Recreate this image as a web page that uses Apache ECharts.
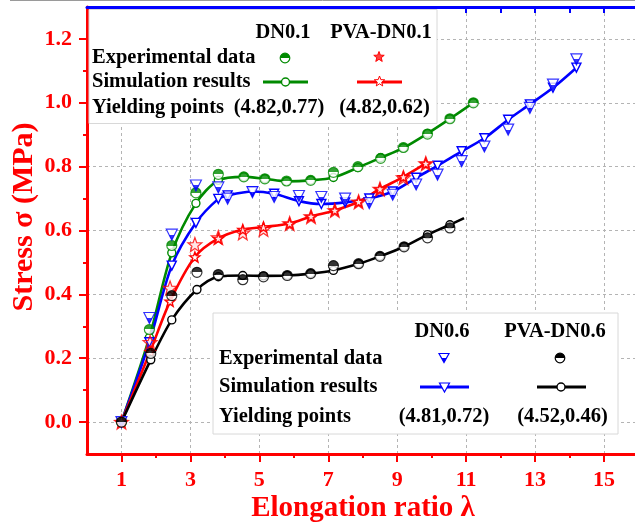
<!DOCTYPE html>
<html><head><meta charset="utf-8">
<script src="https://cdn.jsdelivr.net/npm/echarts@6/dist/echarts.min.js"></script>
<style>html,body{margin:0;padding:0;background:#fff}#c{width:635px;height:524px}</style>
</head><body><div id="c"></div>
<script>
// ---- tick labels ----
const xTickLabels = [1, 3, 5, 7, 9, 11, 13, 15];
const xMinorTicks = [2, 4, 6, 8, 10, 12, 14];
const topTicks = [1, 2, 3, 4, 5, 6, 7, 8, 9, 10, 11, 12, 13, 14, 15];
const yTickLabels = [0, 0.2, 0.4, 0.6, 0.8, 1.0, 1.2];
const yMinorTicks = [0.1, 0.3, 0.5, 0.7, 0.9, 1.1];

// ---- DN0.1 (green) ----
const dn01X   = [1, 1.81, 2.46, 3.16, 3.81, 4.55, 5.16, 5.79, 6.49, 7.15, 7.86, 8.52, 9.18, 9.88, 10.53, 11.21];
const dn01Exp = [0, 0.29, 0.553, 0.718, 0.776, 0.768, 0.762, 0.755, 0.757, 0.782, 0.800, 0.826, 0.860, 0.902, 0.950, 1.000];
const dn01Sim = [0, 0.265, 0.53, 0.685, 0.757, 0.768, 0.762, 0.754, 0.757, 0.766, 0.797, 0.828, 0.859, 0.904, 0.950, 1.000];

// ---- DN0.6 (blue) ----
const dn06X   = [1, 1.81, 2.46, 3.16, 3.81, 4.08, 4.8, 5.43, 6.15, 6.8, 7.49, 8.19, 8.87, 9.55, 10.17, 10.87, 11.53, 12.22, 12.85, 13.52, 14.2];
const dn06Exp = [0, 0.326, 0.587, 0.741, 0.735, 0.700, 0.720, 0.705, 0.708, 0.705, 0.700, 0.686, 0.712, 0.744, 0.775, 0.817, 0.863, 0.916, 0.984, 1.057, 1.136];
const dn06Sim = [0, 0.25, 0.49, 0.624, 0.699, 0.710, 0.722, 0.715, 0.692, 0.683, 0.688, 0.700, 0.722, 0.765, 0.803, 0.848, 0.889, 0.947, 0.995, 1.047, 1.110];

// ---- PVA-DN0.1 (red) ----
const pva01X   = [1, 1.83, 2.41, 3.13, 3.81, 4.52, 5.12, 5.88, 6.5, 7.19, 7.88, 8.5, 9.18, 9.83];
const pva01Exp = [0, 0.25, 0.42, 0.556, 0.578, 0.593, 0.604, 0.622, 0.644, 0.663, 0.690, 0.730, 0.766, 0.810];
const pva01Sim = [0, 0.22, 0.378, 0.517, 0.575, 0.603, 0.611, 0.622, 0.644, 0.663, 0.690, 0.730, 0.768, 0.810];

// ---- PVA-DN0.6 (black) ----
const pva06X   = [1, 1.85, 2.46, 3.19, 3.81, 4.52, 5.12, 5.81, 6.49, 7.15, 7.88, 8.5, 9.2, 9.88, 10.53];
const pva06Exp = [0, 0.215, 0.396, 0.469, 0.462, 0.446, 0.455, 0.459, 0.465, 0.490, 0.496, 0.519, 0.549, 0.577, 0.608];
const pva06Sim = [0, 0.195, 0.32, 0.415, 0.455, 0.459, 0.458, 0.459, 0.465, 0.475, 0.496, 0.519, 0.549, 0.587, 0.618];
const pva06SimEnd = [10.94, 0.639];

const GREEN = '#008a00', BLUE = '#0000ff', RED = '#ff0000', BLACK = '#000000';
const FONT = '"Liberation Serif","Times New Roman",serif';

function pairs(xs, ys) { return xs.map((x, i) => [x, ys[i]]); }
function halfFill(c, topFilled) {
  const a = topFilled ? c : '#fff', b = topFilled ? '#fff' : c;
  return new echarts.graphic.LinearGradient(0, 0, 0, 1, [
    {offset: 0, color: a}, {offset: 0.5, color: a}, {offset: 0.5, color: b}, {offset: 1, color: b}]);
}
function starPts(cx, cy, R) {
  const pts = [];
  for (let i = 0; i < 10; i++) {
    const r = i % 2 ? R * 0.42 : R;
    const a = -Math.PI / 2 + i * Math.PI / 5;
    pts.push([cx + r * Math.cos(a), cy + r * Math.sin(a)]);
  }
  return pts;
}
const STAR = 'path://' + starPts(50, 50, 50).map((p, i) => (i ? 'L' : 'M') + p[0].toFixed(1) + ',' + p[1].toFixed(1)).join(' ') + ' Z';
const DTRI = 'path://M0,0 L10,0 L5,9 Z';

const chart = echarts.init(document.getElementById('c'), null, {renderer: 'canvas'});

const splitDash = {show: true, lineStyle: {color: '#b4b4b4', type: [3, 3], width: 1}};
const axisLab = {color: RED, fontFamily: FONT, fontWeight: 'bold', fontSize: 22};

function simSeries(name, xs, ys, c, sym, size, extra) {
  const data = pairs(xs, ys);
  if (extra) data.push({value: extra, symbol: 'none'});
  return {
    name, type: 'line', data, smooth: 0.3, symbol: sym, symbolSize: size, showAllSymbol: true,
    lineStyle: {color: c, width: 2.6}, itemStyle: {color: '#fff', borderColor: c, borderWidth: 1.4}, z: 3
  };
}
function expSeries(name, xs, ys, c, sym, size, fill) {
  return {
    name, type: 'scatter', data: pairs(xs, ys), symbol: sym, symbolSize: size,
    itemStyle: {color: fill, borderColor: c, borderWidth: 1.2}, z: 4
  };
}

// legend graphics
const G = [];
const LFS = 20.5;
function txt(x, y, s, align) {
  G.push({type: 'text', x, y, z: 20, style: {text: s, fill: '#000', font: 'bold ' + LFS + 'px ' + FONT, textAlign: align || 'left', textVerticalAlign: 'middle'}});
}
function halfCircle(cx, cy, c) {
  G.push({type: 'circle', z: 21, shape: {cx, cy, r: 4.8}, style: {fill: {type: 'linear', x: 0, y: 0, x2: 0, y2: 1, colorStops: [{offset: 0, color: c}, {offset: 0.5, color: c}, {offset: 0.5, color: '#fff'}, {offset: 1, color: '#fff'}]}, stroke: c, lineWidth: 1.2}});
}
function openCircle(cx, cy, c) {
  G.push({type: 'circle', z: 22, shape: {cx, cy, r: 4}, style: {fill: '#fff', stroke: c, lineWidth: 1.4}});
}
function tri(cx, cy, c, half) {
  const pts = [[cx - 5, cy - 4.5], [cx + 5, cy - 4.5], [cx, cy + 4.5]];
  G.push({type: 'polygon', z: 22, shape: {points: pts}, style: {fill: half ? {type: 'linear', x: 0, y: 0, x2: 0, y2: 1, colorStops: [{offset: 0, color: '#fff'}, {offset: 0.5, color: '#fff'}, {offset: 0.5, color: c}, {offset: 1, color: c}]} : '#fff', stroke: c, lineWidth: 1.2}});
}
function star(cx, cy, c, fill) {
  G.push({type: 'polygon', z: 22, shape: {points: starPts(cx, cy, 5.5)}, style: {fill: fill, stroke: c, lineWidth: 1}});
}
function seg(x1, x2, y, c) {
  G.push({type: 'line', z: 21, shape: {x1, y1: y, x2, y2: y}, style: {stroke: c, lineWidth: 3}});
}
// frame line at top of picture
G.push({type: 'line', z: 1, shape: {x1: 10, y1: 0.5, x2: 635, y2: 0.5}, style: {stroke: '#9a9a9a', lineWidth: 1}});
// top legend box
G.push({type: 'rect', z: 15, shape: {x: 89, y: 9.5, width: 348, height: 114}, style: {fill: '#fff', stroke: '#d8d8d8', lineWidth: 1}});
txt(283, 33, 'DN0.1', 'center'); txt(381, 33, 'PVA-DN0.1', 'center');
txt(92, 58, 'Experimental data'); halfCircle(285, 58, GREEN); star(379, 57, RED, '#ff4040');
txt(92, 82, 'Simulation results'); seg(263, 308, 82, GREEN); openCircle(285.5, 82, GREEN); seg(357, 402, 82, RED); star(379.5, 81.5, RED, '#fff');
txt(92, 108, 'Yielding points'); txt(279, 108, '(4.82,0.77)', 'center'); txt(384.5, 108, '(4.82,0.62)', 'center');
// bottom legend box
G.push({type: 'rect', z: 15, shape: {x: 213, y: 313, width: 405, height: 121}, style: {fill: '#fff', stroke: '#d8d8d8', lineWidth: 1}});
txt(442, 332, 'DN0.6', 'center'); txt(555, 332, 'PVA-DN0.6', 'center');
txt(219, 359, 'Experimental data'); tri(444, 358, BLUE, true); halfCircle(560, 358, BLACK);
txt(219, 387, 'Simulation results'); seg(420, 469, 387, BLUE); tri(444.5, 387.5, BLUE, false); seg(537, 586, 387, BLACK); openCircle(561, 387, BLACK);
txt(219, 417, 'Yielding points'); txt(444, 417, '(4.81,0.72)', 'center'); txt(562.5, 417, '(4.52,0.46)', 'center');
// axis titles
G.push({type: 'text', x: 24, y: 217, rotation: Math.PI / 2, z: 20, style: {text: 'Stress σ (MPa)', fill: RED, font: 'bold 30px ' + FONT, textAlign: 'center', textVerticalAlign: 'middle'}});
G.push({type: 'text', x: 363, y: 509, z: 20, style: {text: 'Elongation ratio λ', fill: RED, font: 'bold 29px ' + FONT, textAlign: 'center', textVerticalAlign: 'middle'}});

const option = {
  animation: false,
  backgroundColor: '#fff',
  grid: {left: 87, right: 0, top: 7, bottom: 70, containLabel: false},
  xAxis: [
    {type: 'value', position: 'bottom', min: 0, max: 15.9, interval: 1,
     axisLine: {show: true, onZero: false, lineStyle: {color: RED, width: 3}},
     axisTick: {show: true, customValues: xTickLabels, length: 8, lineStyle: {color: RED, width: 2}},
     axisLabel: {customValues: xTickLabels, margin: 15, ...axisLab},
     splitLine: splitDash},
    {type: 'value', position: 'bottom', min: 0, max: 15.9, interval: 1,
     axisLine: {show: false, onZero: false},
     axisTick: {show: true, customValues: xMinorTicks, length: 4, lineStyle: {color: RED, width: 2}},
     axisLabel: {show: false}, splitLine: {show: false}},
    {type: 'value', position: 'top', min: 0, max: 15.9, interval: 1,
     axisLine: {show: true, onZero: false, lineStyle: {color: BLUE, width: 3}},
     axisTick: {show: true, inside: true, customValues: topTicks, length: 6, lineStyle: {color: BLUE, width: 2}},
     axisLabel: {show: false}, splitLine: {show: false}}
  ],
  yAxis: [
    {type: 'value', position: 'left', min: -0.1, max: 1.3, interval: 0.1,
     axisLine: {show: true, onZero: false, lineStyle: {color: RED, width: 3}},
     axisTick: {show: true, customValues: yTickLabels, length: 8, lineStyle: {color: RED, width: 2}},
     axisLabel: {customValues: yTickLabels, margin: 15, formatter: v => Number(v).toFixed(1), ...axisLab},
     splitLine: splitDash},
    {type: 'value', position: 'left', min: -0.1, max: 1.3, interval: 0.1,
     axisLine: {show: false, onZero: false},
     axisTick: {show: true, customValues: yMinorTicks, length: 4, lineStyle: {color: RED, width: 2}},
     axisLabel: {show: false}, splitLine: {show: false}}
  ],
  series: [
    simSeries('DN0.1 simulation', dn01X, dn01Sim, GREEN, 'circle', 8),
    simSeries('DN0.6 simulation', dn06X, dn06Sim, BLUE, DTRI, 9),
    simSeries('PVA-DN0.1 simulation', pva01X, pva01Sim, RED, STAR, 10),
    simSeries('PVA-DN0.6 simulation', pva06X, pva06Sim, BLACK, 'circle', 8, pva06SimEnd),
    expSeries('DN0.1 experimental', dn01X, dn01Exp, GREEN, 'circle', 10, halfFill(GREEN, true)),
    expSeries('DN0.6 experimental', dn06X, dn06Exp, BLUE, DTRI, 11, halfFill(BLUE, false)),
    expSeries('PVA-DN0.1 experimental', pva01X, pva01Exp, RED, STAR, 14, 'rgba(255,80,80,0.18)'),
    expSeries('PVA-DN0.6 experimental', pva06X, pva06Exp, BLACK, 'circle', 10, halfFill(BLACK, true))
  ],
  graphic: G
};
chart.setOption(option);
</script>
</body></html>
